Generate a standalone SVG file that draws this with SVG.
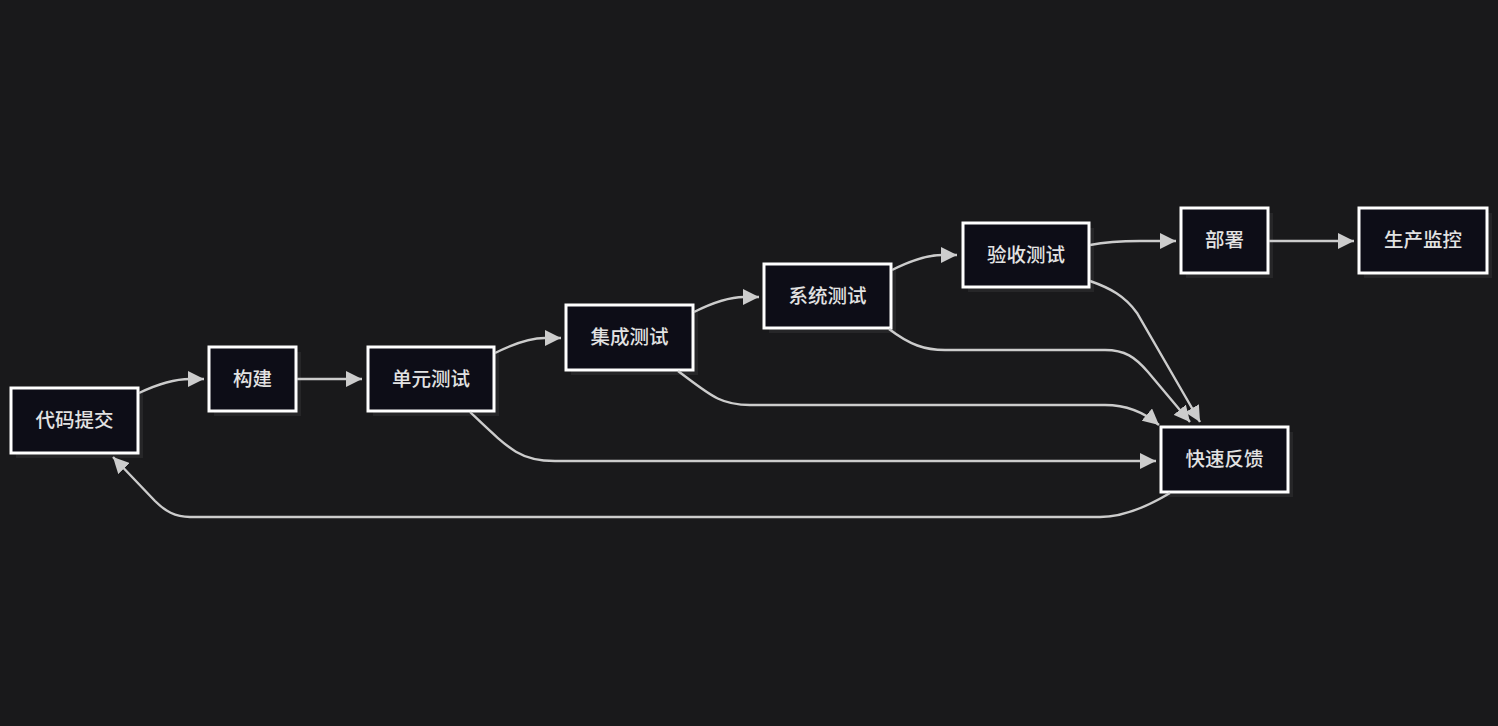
<svg xmlns="http://www.w3.org/2000/svg" width="1498" height="726" viewBox="0 0 1498 726">
<defs>
<marker id="ah" markerUnits="userSpaceOnUse" markerWidth="17" markerHeight="16" refX="16" refY="8" orient="auto">
<path d="M0,0 L16,8 L0,16 z" fill="#cccccc"/>
</marker>
<style>
.shadow{fill:#262628}
.box{fill:#0d0d17;stroke:#ffffff;stroke-width:3}
.lbl{font-family:"Noto Sans CJK SC","Noto Sans",sans-serif;font-size:19.5px;font-weight:500;fill:#e2e2e2;text-anchor:middle;dominant-baseline:central}
.edge{fill:none;stroke:#cccccc;stroke-width:2.4;marker-end:url(#ah)}
</style>
</defs>
<rect width="1498" height="726" fill="#19191b"/>
<g id="n1"><rect class="shadow" x="16" y="393" width="127" height="65"/><rect class="box" x="11" y="388" width="127" height="65"/><text class="lbl" x="74.5" y="418.5">代码提交</text></g>
<g id="n2"><rect class="shadow" x="214" y="352" width="87" height="64"/><rect class="box" x="209" y="347" width="87" height="64"/><text class="lbl" x="252.5" y="377">构建</text></g>
<g id="n3"><rect class="shadow" x="373" y="352" width="126" height="64"/><rect class="box" x="368" y="347" width="126" height="64"/><text class="lbl" x="431" y="377">单元测试</text></g>
<g id="n4"><rect class="shadow" x="571" y="310" width="127" height="65"/><rect class="box" x="566" y="305" width="127" height="65"/><text class="lbl" x="629.5" y="335.5">集成测试</text></g>
<g id="n5"><rect class="shadow" x="769" y="269" width="127" height="64"/><rect class="box" x="764" y="264" width="127" height="64"/><text class="lbl" x="827.5" y="294">系统测试</text></g>
<g id="n6"><rect class="shadow" x="968" y="228" width="126" height="64"/><rect class="box" x="963" y="223" width="126" height="64"/><text class="lbl" x="1026" y="253">验收测试</text></g>
<g id="n7"><rect class="shadow" x="1186" y="213" width="87" height="65"/><rect class="box" x="1181" y="208" width="87" height="65"/><text class="lbl" x="1224.5" y="238.5">部署</text></g>
<g id="n8"><rect class="shadow" x="1364" y="213" width="128" height="65"/><rect class="box" x="1359" y="208" width="128" height="65"/><text class="lbl" x="1423" y="238.5">生产监控</text></g>
<g id="n9"><rect class="shadow" x="1166" y="432" width="127" height="65"/><rect class="box" x="1161" y="427" width="127" height="65"/><text class="lbl" x="1224.5" y="457.5">快速反馈</text></g>
<g id="connectors">
<path class="edge" d="M139,393 C160,383 175,379 190,379 L204,379"/>
<path class="edge" d="M297,379 L362,379"/>
<path class="edge" d="M495,353 C515,343 530,338 545,338 L561,338"/>
<path class="edge" d="M694,312 C714,302 729,297 744,297 L759,297"/>
<path class="edge" d="M892,270 C912,260 927,255 942,255 L957,255"/>
<path class="edge" d="M1090,245 C1110,241 1125,241 1140,241 L1176,241"/>
<path class="edge" d="M1269,241 L1354,241"/>
<path class="edge" d="M470,412 C510,450 520,461 555,461 L1156,461"/>
<path class="edge" d="M678,371 C710,395 720,405 750,405 L1105,405 C1128,405 1145,413 1159,425"/>
<path class="edge" d="M889,329 C910,345 925,350 945,350 L1105,350 C1125,350 1135,357 1148,372 L1190,422"/>
<path class="edge" d="M1090,281 C1110,288 1125,296 1137,313 L1200,422"/>
<path class="edge" d="M1170,493 C1150,505 1125,517 1100,517 L190,517 C175,517 165,511 155,501 L113,457"/>
</g>
</svg>
